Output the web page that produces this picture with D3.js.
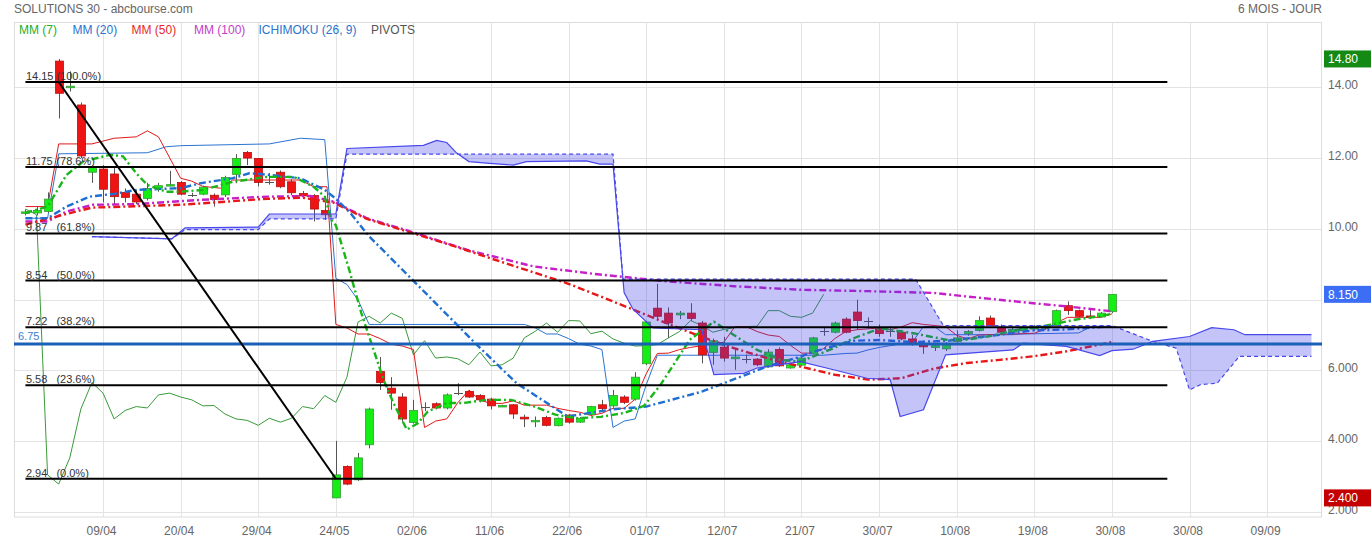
<!DOCTYPE html>
<html><head><meta charset="utf-8">
<script src="https://cdn.jsdelivr.net/npm/d3@7/dist/d3.min.js"></script>
<style>body{margin:0;background:#fff;}svg{display:block;font-family:"Liberation Sans",Arial,sans-serif;}</style>
</head><body><svg id="c" width="1371" height="541"></svg>
<script>
// ---- data ----
const dateIdx = [7,14,21,28,35,42,49,56,63,70,77,84,91,98,105,112];
const dateLabels = ["09/04","20/04","29/04","24/05","02/06","11/06","22/06","01/07","12/07","21/07","30/07","10/08","19/08","30/08","30/08","09/09"];
const yTicks = [14,12,10,8,6,4,2];
const yTickLabels = ["14.00","12.00","10.00","8.000","6.000","4.000","2.000"];

const open  = [10.45,10.45,10.49,14.74,14.00,13.50,11.60,11.69,11.55,11.03,10.98,10.86,11.15,11.22,11.31,10.96,10.98,10.95,10.96,11.54,12.16,11.99,11.33,11.60,11.33,11.00,10.94,10.52,
 2.40,3.29,2.91,3.90,5.97,5.50,5.25,4.53,4.98,5.06,4.94,5.36,5.41,5.29,5.19,5.00,5.03,4.68,4.57,4.67,4.44,4.74,4.54,4.75,5.03,5.00,5.25,5.19,
 6.19,7.76,7.62,7.57,7.62,7.34,6.51,6.66,6.33,6.33,6.32,6.10,6.59,6.07,6.15,6.47,7.11,7.08,7.45,7.65,7.40,7.18,7.11,7.08,6.89,6.71,6.65,6.61,
 6.82,7.04,7.13,7.48,7.21,7.08,7.12,7.17,7.19,7.27,7.83,7.69,7.54,7.51,7.66];
const high  = [10.55,10.62,11.03,14.80,14.45,13.57,11.80,11.80,11.76,11.14,11.10,11.30,11.30,11.64,11.35,11.02,11.22,11.00,11.50,12.11,12.20,12.00,11.58,11.65,11.40,11.07,10.98,10.78,
 4.01,3.32,3.67,4.95,6.38,5.81,5.36,5.17,5.10,5.10,5.35,5.64,5.45,5.33,5.23,5.03,5.05,4.75,4.70,4.72,4.67,4.77,4.68,5.00,5.17,5.45,5.30,5.95,
 7.40,8.45,7.78,7.68,7.90,7.40,6.90,6.95,6.63,6.45,6.35,6.60,6.65,6.20,6.38,6.95,7.22,7.38,7.50,8.00,7.50,7.30,7.25,7.15,7.00,6.85,6.75,6.80,
 7.13,7.14,7.53,7.55,7.30,7.22,7.25,7.28,7.28,7.72,7.95,7.72,7.71,7.65,8.15];
const low   = [10.38,10.38,10.45,13.12,13.88,12.00,11.30,10.75,10.70,10.75,10.70,10.80,11.05,11.20,10.95,10.90,10.95,10.63,10.90,11.29,11.80,11.20,11.25,11.15,10.95,10.88,10.21,10.25,
 2.40,2.76,2.88,3.80,5.45,4.89,4.55,4.50,4.85,4.90,4.90,5.30,5.22,5.10,4.90,4.97,4.63,4.40,4.40,4.42,4.42,4.50,4.52,4.72,4.85,4.95,5.05,5.15,
 6.15,7.40,6.92,7.45,7.40,6.20,6.16,6.25,6.02,6.20,6.12,6.08,6.10,6.05,6.12,6.45,6.98,7.05,7.05,7.15,7.18,6.95,6.95,6.85,6.70,6.47,6.55,6.55,
 6.78,6.98,7.10,7.25,7.05,7.04,7.08,7.12,7.15,7.25,7.57,7.50,7.45,7.50,7.62];
const close = [10.48,10.52,10.84,13.83,14.03,12.06,11.75,11.12,10.91,10.89,10.76,11.14,11.22,11.25,10.98,10.96,11.18,10.83,11.45,11.99,12.00,11.31,11.33,11.19,11.02,10.93,10.56,10.40,
 3.05,2.79,3.53,4.91,5.66,5.36,4.63,4.87,4.98,4.94,5.31,5.36,5.25,5.17,5.00,5.01,4.77,4.63,4.59,4.45,4.65,4.54,4.65,4.98,4.92,5.29,5.10,5.81,
 7.37,7.53,7.34,7.62,7.47,6.44,6.84,6.35,6.38,6.33,6.16,6.52,6.13,6.16,6.35,6.92,7.11,7.34,7.08,7.41,7.40,7.04,7.11,6.89,6.77,6.69,6.70,6.73,
 6.92,7.10,7.41,7.27,7.08,7.16,7.21,7.24,7.25,7.69,7.69,7.53,7.50,7.62,8.15];

// moving averages [index, value]
const mm7 = [[0,10.45],[2,10.63],[3.7,11.52],[5.2,11.9],[7.6,12.09],[8.8,12.05],[10,11.57],[11,11.24],[12.7,11.05],[14,11.05],[16,11.1],[18.7,11.33],[21.8,11.47],[24.2,11.47],[26,11.19],[27,10.91],[27.6,10.25],[28,10.1],[29.2,8.85],[30.3,7.62],[32.3,5.74],[33.2,5.08],[34.4,4.33],[35.4,4.51],[36.3,4.84],[38,5.08],[39.5,5.08],[41.6,5.17],[43.8,5.17],[45.9,4.98],[47.8,4.75],[49.8,4.65],[51.9,4.69],[54,4.8],[55.8,5.0],[57.3,5.6],[59.9,6.86],[62.1,7.38],[63.9,7.0],[66,6.58],[68.1,6.3],[69.9,6.25],[72.9,6.63],[74.7,6.91],[77.1,7.19],[80.1,7.05],[83.2,6.86],[84.9,6.87],[87,6.97],[89.1,7.13],[92.1,7.27],[94.8,7.44],[96.9,7.53],[98,7.6]];
const mm20 = [[0,10.3],[2,10.3],[3.7,10.63],[5.8,10.91],[8,10.99],[10,11.1],[14,11.15],[15.8,11.29],[18.7,11.43],[20.2,11.57],[21.2,11.55],[24.8,11.43],[27,11.1],[28,10.85],[29.3,10.45],[31,9.79],[35.8,8.28],[40.7,6.73],[44.3,5.64],[48.9,4.7],[52.9,4.9],[56,4.98],[61,5.4],[66.9,6.11],[69.9,6.39],[71.1,6.53],[74.7,6.84],[77.1,6.86],[80.1,6.8],[83.2,6.84],[87.9,7.01],[90.9,7.13],[93.9,7.16],[98,7.25]];
const mm50 = [[0,10.12],[3.7,10.42],[6,10.6],[14,10.68],[21.8,10.85],[25,10.88],[27.8,10.74],[30.8,10.28],[34.7,9.9],[38.3,9.55],[42.8,9.08],[48.8,8.47],[51.8,8.1],[54.8,7.72],[57.8,7.34],[60.9,6.96],[63.9,6.63],[66.9,6.35],[69.9,6.11],[73,5.88],[76,5.74],[79,5.78],[81.9,6.05],[84.9,6.21],[87.9,6.3],[90.9,6.4],[93.9,6.54],[96.9,6.73],[98,6.8]];
const mm100 = [[0,10.21],[2,10.21],[3.7,10.49],[6.1,10.68],[10,10.7],[15.8,10.82],[21.8,10.91],[25.7,10.93],[27.8,10.77],[30.8,10.3],[34.7,9.93],[39.8,9.41],[45.8,8.94],[51.8,8.71],[57.8,8.52],[63.9,8.38],[69.9,8.28],[76,8.24],[82,8.19],[84.9,8.09],[90.9,7.9],[93.9,7.81],[98,7.67]];

// ichimoku
const tenkan = [[0,10.63],[2,10.63],[3,12.4],[6,12.4],[8,12.56],[10,12.6],[11,12.77],[12,12.6],[14,11.43],[15,11.35],[16,11.2],[17.6,11.15],[18.7,11.38],[22,11.38],[24.8,11.38],[26,11.19],[27.2,11.19],[28,7.3],[29,7.2],[30,7.03],[31,7.03],[32,6.9],[33,6.74],[34,6.69],[35,6.59],[36,4.39],[37,4.57],[38,4.63],[39,5.09],[40,5.44],[41,5.16],[42,5.07],[43,5.07],[44,5.14],[45,5.02],[47,5.02],[48,4.93],[49,4.87],[50,4.82],[51,4.73],[52,4.79],[53,4.93],[54,4.93],[55,5.19],[56,5.91],[57,6.48],[58,6.49],[59,6.59],[60,6.65],[61,6.7],[62,6.75],[63,6.8],[64,7.24],[65,7.24],[66,7.1],[67,7.0],[68,6.96],[69,6.71],[70,6.49],[71,6.49],[72,6.62],[73,6.9],[74,7.1],[75,7.15],[77,7.2],[78,7.15],[79,7.23],[80,7.35],[81,7.3],[83,7.24],[84,6.99],[85,6.89],[86,7.0],[91,7.05],[92,7.17],[93,7.35],[94,7.5],[97,7.5],[98,7.6]];
const kijun = [[0,10.3],[2,10.3],[3,12.12],[11,12.15],[12.7,12.32],[14,12.35],[22,12.4],[24.8,12.56],[27,12.52],[28,8.6],[29,8.43],[30,7.99],[31,7.3],[45,7.3],[46,7.2],[47,7.03],[48,7.03],[49,6.9],[50,6.74],[51,6.69],[52,6.59],[53,4.39],[54,4.57],[55,4.63],[56,5.6],[57,6.43],[72,6.43],[74,6.48],[75,6.49],[76,6.58],[77,6.65],[78,6.7],[79,6.75],[80,6.8],[81,7.24],[82,7.24],[83,7.01],[89,7.01],[90,7.03],[95,7.06],[96,7.22],[98,7.24]];
const chikou = [10.56,10.40,3.05,2.79,3.53,4.91,5.66,5.36,4.63,4.87,4.98,4.94,5.31,5.36,5.25,5.17,5.00,5.01,4.77,4.63,4.59,4.45,4.65,4.54,4.65,4.98,4.92,5.29,5.10,5.81,7.37,7.53,7.34,7.62,7.47,6.44,6.84,6.35,6.38,6.33,6.16,6.52,6.13,6.16,6.35,6.92,7.11,7.34,7.08,7.41,7.40,7.04,7.11,6.89,6.77,6.69,6.70,6.73,6.92,7.10,7.41,7.27,7.08,7.16,7.21,7.24,7.25,7.69,7.69,7.53,7.50,7.62,8.15];
const spanA = [[6,9.78],[13.2,9.72],[14.4,10.03],[21,10.05],[22,10.42],[28,10.42],[29,12.27],[35.9,12.36],[37.1,12.5],[38,12.44],[38.9,12.14],[40,11.9],[41.9,11.85],[44,11.8],[45.2,11.9],[50.6,11.92],[51.8,11.83],[53,11.83],[54,8.2],[54.8,7.73],[56.6,7.2],[61,7.15],[62.1,5.88],[64.8,5.92],[66,6.07],[67.2,6.12],[69.9,6.25],[72.9,6.02],[75.9,5.78],[78,5.74],[78.9,4.7],[81,4.89],[83,6.44],[89.1,6.58],[90,6.77],[93.9,6.68],[96.9,6.42],[98,6.56],[99.9,6.6],[101.7,6.82],[105,6.96],[107,7.21],[109,7.15],[110,7.01],[116,7.01]];
const spanB = [[6,9.78],[13.2,9.72],[14.4,9.98],[21,9.98],[22,10.28],[28,10.28],[29,12.11],[53,12.11],[53.9,8.58],[80.3,8.58],[82.8,7.27],[98,7.27],[101.7,6.82],[103.8,6.63],[105,5.45],[106,5.6],[107.5,5.64],[109.5,6.4],[116,6.4]];

// fibonacci & pivot
const fibValues = [14.15,11.75,9.87,8.54,7.22,5.58,2.94];
const fibPct = ["(100.0%)","(78.6%)","(61.8%)","(50.0%)","(38.2%)","(23.6%)","(0.0%)"];
const fibStartIdx = 0, fibEndIdx = 103;
const trendLine = [[3,14.15],[28,2.94]];
const pivot = 6.75;
const priceBoxes = [[14.80,"14.80","#148a14"],[8.15,"8.150","#3b6ef5"],[2.40,"2.400","#c40000"]];
const legendItems = [["MM (7)","#1fae1f",19],["MM (20)","#2a74d0",72.5],["MM (50)","#e62a2a",131.5],["MM (100)","#c23cc8",194],["ICHIMOKU (26, 9)","#2a74d0",258.5],["PIVOTS","#555",371]];

// ---- drawing ----
const svg = d3.select("#c");
const L=14, R=1322, T=22.5, B=517;
const x = d3.scaleLinear().domain([-1.03,116.95]).range([L,R]);
const y = d3.scaleLinear().domain([1.86,15.83]).range([B,T]);
const crisp = v => Math.round(v)+0.5;

svg.append("rect").attr("width",1371).attr("height",541).attr("fill","#fff");

// grid
const g = svg.append("g");
g.selectAll(".hg").data(yTicks).enter().append("line")
 .attr("x1",L).attr("x2",R).attr("y1",d=>crisp(y(d))).attr("y2",d=>crisp(y(d)))
 .attr("stroke","#e3e3e3");
g.selectAll(".vg").data(dateIdx).enter().append("line")
 .attr("x1",d=>crisp(x(d))).attr("x2",d=>crisp(x(d))).attr("y1",T).attr("y2",B)
 .attr("stroke","#e3e3e3");
g.append("rect").attr("x",L+0.5).attr("y",T).attr("width",R-L-1).attr("height",B-T)
 .attr("fill","none").attr("stroke","#dcdcdc");

// axes
const ya = svg.append("g").attr("transform",`translate(${R+4},0)`)
 .call(d3.axisRight(y).tickValues(yTicks).tickFormat((d,i)=>yTickLabels[i]).tickSize(0).tickPadding(2));
ya.select(".domain").remove();
ya.selectAll("text").attr("fill","#666").attr("font-size",12).attr("font-family","Liberation Sans, Arial, sans-serif").attr("dy","0.12em");
const xa = svg.append("g").attr("transform",`translate(-2,${B})`)
 .call(d3.axisBottom(x).tickValues(dateIdx).tickFormat((d,i)=>dateLabels[i]).tickSize(0).tickPadding(9));
xa.select(".domain").remove();
xa.selectAll("text").attr("fill","#666").attr("font-size",12).attr("font-family","Liberation Sans, Arial, sans-serif");

// title & legend
svg.append("text").attr("x",14).attr("y",13).attr("font-size",12).attr("fill","#666").text("SOLUTIONS 30 - abcbourse.com");
svg.append("text").attr("x",1322).attr("y",13).attr("text-anchor","end").attr("font-size",12).attr("fill","#666").text("6 MOIS - JOUR");
svg.selectAll(".lg").data(legendItems).enter().append("text")
 .attr("x",d=>d[2]).attr("y",34).attr("font-size",12).attr("fill",d=>d[1]).text(d=>d[0]);

const lineKP = d3.line().x(d=>x(d[0])).y(d=>y(d[1]));

// chikou, tenkan, kijun (thin)
svg.append("path").attr("d",d3.line().x((d,i)=>x(i)).y(d=>y(d))(chikou))
 .attr("fill","none").attr("stroke","#3a9a3a").attr("stroke-width",1);
svg.append("path").attr("d",lineKP(kijun)).attr("fill","none").attr("stroke","#2a74d0").attr("stroke-width",1);
svg.append("path").attr("d",lineKP(tenkan)).attr("fill","none").attr("stroke","#e01a1a").attr("stroke-width",1);

// candles
const cg = svg.append("g");
const bw = 8;
open.forEach((o,i)=>{
  const c = close[i], h = high[i], l = low[i];
  const cx = crisp(x(i));
  cg.append("line").attr("x1",cx).attr("x2",cx).attr("y1",y(h)).attr("y2",y(l)).attr("stroke","#555").attr("stroke-width",1);
  if (o === c) {
    cg.append("line").attr("x1",cx-4.5).attr("x2",cx+4.5).attr("y1",crisp(y(c))).attr("y2",crisp(y(c))).attr("stroke","#555");
  } else {
    const up = c > o;
    const top = y(Math.max(o,c)), bot = y(Math.min(o,c));
    cg.append("rect").attr("x",cx-bw/2).attr("y",top).attr("width",bw).attr("height",Math.max(1.5,bot-top))
      .attr("fill", up ? "#14ee14" : "#ee1414").attr("stroke", up ? "#3a9a3a" : "#b81010").attr("stroke-width",0.8);
  }
});

// moving averages (dash-dot)
const dash = "7,3,2,3";
[[mm100,"#c81ec8"],[mm50,"#e81818"],[mm20,"#1f6fd0"],[mm7,"#19b619"]].forEach(([d,col])=>{
  svg.append("path").attr("d",lineKP(d)).attr("fill","none").attr("stroke",col)
    .attr("stroke-width",2.4).attr("stroke-dasharray",dash);
});

// cloud (drawn over, translucent)
const poly = spanA.concat(spanB.slice().reverse());
svg.append("path").attr("d",lineKP(poly)+"Z").attr("fill","rgba(60,60,235,0.30)").attr("stroke","none").attr("fill-rule","nonzero");
svg.append("path").attr("d",lineKP(spanA)).attr("fill","none").attr("stroke","#4848ec").attr("stroke-width",1.2);
svg.append("path").attr("d",lineKP(spanB)).attr("fill","none").attr("stroke","#4848ec").attr("stroke-width",1.2).attr("stroke-dasharray","4,3");

// pivot
svg.append("line").attr("x1",L).attr("x2",R).attr("y1",y(pivot)).attr("y2",y(pivot)).attr("stroke","#1a5fb8").attr("stroke-width",3);
svg.append("text").attr("x",18).attr("y",y(pivot)-4).attr("font-size",11).attr("fill","#3a80d0").text(pivot.toFixed(2));

// fibonacci
const fg = svg.append("g");
fibValues.forEach((v,k)=>{
  fg.append("line").attr("x1",x(fibStartIdx)).attr("x2",x(fibEndIdx)).attr("y1",y(v)).attr("y2",y(v)).attr("stroke","#000").attr("stroke-width",2);
  fg.append("text").attr("x",x(fibStartIdx)+0.5).attr("y",y(v)-2).attr("font-size",11).attr("fill","#333").text(v.toFixed(2));
  fg.append("text").attr("x",x(fibStartIdx)+31).attr("y",y(v)-2).attr("font-size",11).attr("fill","#333").text(fibPct[k]);
});
fg.append("path").attr("d",lineKP(trendLine)).attr("stroke","#000").attr("stroke-width",2).attr("fill","none");

// price boxes
priceBoxes.forEach(([v,t,col])=>{
  svg.append("rect").attr("x",R+2).attr("y",y(v)-8.5).attr("width",1371-R-2).attr("height",17).attr("fill",col);
  svg.append("text").attr("x",R+6).attr("y",y(v)+4.5).attr("font-size",12).attr("fill","#fff").text(t);
});
</script></body></html>
